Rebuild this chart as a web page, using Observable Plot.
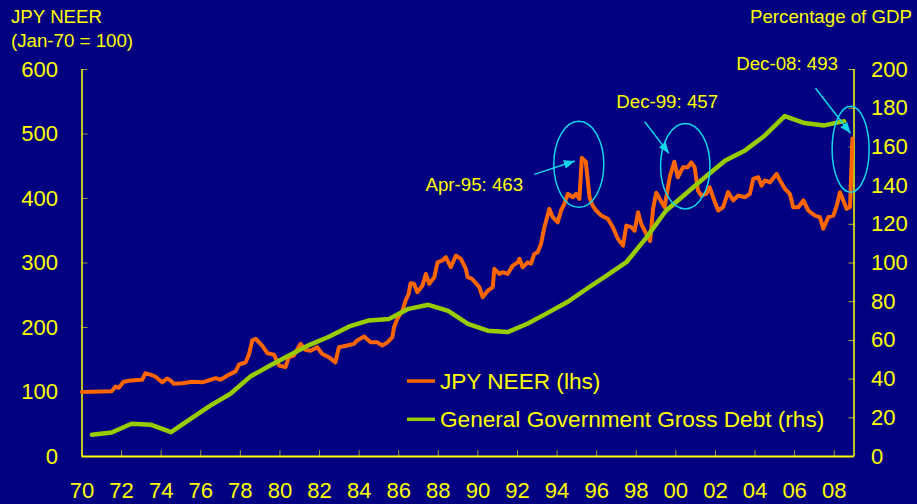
<!DOCTYPE html>
<html>
<head>
<meta charset="utf-8">
<script src="https://cdn.jsdelivr.net/npm/d3@7"></script>
<script src="https://cdn.jsdelivr.net/npm/@observablehq/plot@0.6"></script>
<style>
  html, body { margin: 0; padding: 0; background: #000080; }
  #chart { width: 917px; height: 504px; }
</style>
</head>
<body>
<div id="chart"></div>
<script>
// ---------- DATA ----------
// JPY nominal effective exchange rate (Jan-70 = 100), decimal year
const neerDates = [1970.0,1971.5,1971.7,1971.86,1972.1,1972.45,1973.04,1973.2,1973.46,1973.7,1974.05,1974.3,1974.47,1974.64,1975.06,1975.57,1976.08,1976.5,1976.75,1977.0,1977.43,1977.76,1977.93,1978.27,1978.44,1978.6,1978.78,1979.1,1979.37,1979.7,1979.96,1980.28,1980.45,1980.7,1981.04,1981.3,1981.54,1981.88,1982.14,1982.47,1982.8,1982.98,1983.4,1983.74,1983.9,1984.25,1984.58,1984.92,1985.17,1985.43,1985.68,1985.76,1985.93,1986.19,1986.35,1986.5,1986.6,1986.77,1986.94,1987.2,1987.37,1987.54,1987.8,1987.96,1988.21,1988.38,1988.63,1988.89,1989.14,1989.39,1989.48,1989.7,1990.07,1990.24,1990.5,1990.75,1990.83,1991.08,1991.25,1991.5,1991.76,1992.01,1992.1,1992.26,1992.52,1992.68,1992.85,1993.02,1993.19,1993.36,1993.61,1993.78,1994.03,1994.2,1994.37,1994.54,1994.8,1994.96,1995.13,1995.25,1995.45,1995.64,1995.8,1995.97,1996.23,1996.56,1996.82,1997.07,1997.33,1997.5,1997.75,1997.92,1998.09,1998.25,1998.51,1998.7,1998.85,1999.01,1999.18,1999.43,1999.69,1999.92,2000.1,2000.36,2000.6,2000.78,2000.95,2001.12,2001.29,2001.54,2001.71,2001.88,2002.14,2002.39,2002.64,2002.9,2003.15,2003.49,2003.74,2003.91,2004.16,2004.33,2004.5,2004.75,2005.09,2005.26,2005.51,2005.76,2005.93,2006.19,2006.44,2006.69,2007.03,2007.28,2007.45,2007.7,2007.96,2008.13,2008.29,2008.46,2008.63,2008.8,2008.92];
const neerValues = [100,101,108.5,106.5,116,117.8,119,129,127,124,115,121,118,112.7,113.7,116,115,119,121.4,119,127,132,142.6,146,159,180,182.5,172,160,158,141,138.5,154,156.6,174.7,165,164,169.5,159,154,146,169.5,172,174.7,180,186,177,177,172,177,185,200,213.5,226,242,252,268.7,267.7,254.7,265,283,267.7,278,301,304,309,293.5,311.6,306.5,291,278,275.5,262.5,247,257,262.5,291,283,285.7,283,296,301,306.5,293.5,301,298.8,314,316.8,329.7,355.5,384,371,363,381.4,391.8,407,402,407,399.5,463,457,402,389,381.4,373.6,368.5,355.5,337.5,327,358,355.5,350,378.8,360.8,345,334,384,409,399.5,386.5,433,457,433,448.5,448.5,456,448.5,412,404.7,407.3,417.5,402,381.4,386.5,409.8,397,404.7,402,407.3,430.5,433,420,428,425,438,428,415,407.3,386.5,386.5,397,381.4,373.6,371,353,371,373.6,389,409.8,397,384,386.5,493];

// General government gross debt, % of GDP (annual)
const debtYears = [1970,1971,1972,1973,1974,1975,1976,1977,1978,1979,1980,1981,1982,1983,1984,1985,1986,1987,1988,1989,1990,1991,1992,1993,1994,1995,1996,1997,1998,1999,2000,2001,2002,2003,2004,2005,2006,2007,2008];
const debtValues = [11.2,12.4,16.9,16.4,12.6,19.6,26.4,32.4,41.3,47,52.5,57.7,62,67.2,70.3,71,76.3,78.4,75.3,68.5,65,64.3,68.6,74.1,79.7,86.7,93.5,100.4,113,127,135.8,144.6,153,158.2,165.9,175.9,172.3,171.1,173.3];

// Axis ticks
const xTickYears = d3.range(1970, 2009, 2);
const leftTicks = [0,100,200,300,400,500,600];
const rightTicks = [0,20,40,60,80,100,120,140,160,180,200];

// Annotations
const annoDates = [1995.25, 1999.92, 2008.92];
const annoValues = [463, 457, 493];
const annoLabels = ["Apr-95: 463", "Dec-99: 457", "Dec-08: 493"];

// Text
const leftTitle = ["JPY NEER", "(Jan-70 = 100)"];
const rightTitle = "Percentage of GDP";
const seriesNames = ["JPY NEER (lhs)", "General Government Gross Debt (rhs)"];

// ---------- STYLE / LAYOUT ----------
const BG = "#000080", YEL = "#ffff00", ORANGE = "#ff6600", GREEN = "#99cc00", CYAN = "#14d6ea";
const FONT = "'Liberation Sans', Arial, Helvetica, sans-serif";
const RIGHT_K = 3; // 600 lhs units = 200 rhs units

// annotation layout offsets (px, relative to the annotated point)
const annoLayout = [
  {ldx: -107, ldy: 34, a1: [-47, 17], a2: [-6.5, 3.6], ec: [-2.5, 7], rx: 25, ry: 43},
  {ldx: -6.6, ldy: -53, a1: [-29, -39.5], a2: [-4.8, -7.9], ec: [11.5, 5], rx: 24.7, ry: 42.8},
  {ldx: -64.8, ldy: -68, a1: [-36.4, -49.7], a2: [-1.4, -4.7], ec: [-1.3, 11.2], rx: 18.5, ry: 43}
];

const neer = neerDates.map((d, i) => ({date: d, value: neerValues[i]}));
const debt = debtYears.map((y, i) => ({date: y + 0.5, value: debtValues[i] * RIGHT_K}));

const chart = Plot.plot({
  width: 917,
  height: 504,
  marginLeft: 81.5,
  marginRight: 63.5,
  marginTop: 69,
  marginBottom: 48,
  style: {background: BG, color: YEL, fontFamily: FONT, overflow: "visible"},
  x: {domain: [1970, 2009]},
  y: {domain: [0, 600]},
  marks: [
    // tick marks (inward)
    Plot.axisX({ticks: xTickYears, tickSize: -6, tickFormat: () => "", label: null, stroke: YEL, strokeOpacity: 0.6}),
    Plot.axisY({anchor: "left", ticks: leftTicks, tickSize: -6, tickFormat: () => "", label: null, stroke: YEL, strokeOpacity: 0.6}),
    Plot.axisY({anchor: "right", ticks: rightTicks.map(v => v * RIGHT_K), tickSize: -6, tickFormat: () => "", label: null, stroke: YEL, strokeOpacity: 0.7}),
    // tick labels
    Plot.axisX({ticks: xTickYears, tickSize: 0, tickPadding: 25.5, fontSize: 22, fill: YEL, label: null,
      tickFormat: d => String(d % 100).padStart(2, "0")}),
    Plot.axisY({anchor: "left", ticks: leftTicks, tickSize: 0, tickPadding: 24, fontSize: 22, fill: YEL, label: null}),
    Plot.axisY({anchor: "right", ticks: rightTicks.map(v => v * RIGHT_K), tickSize: 0, tickPadding: 17, fontSize: 22, fill: YEL, label: null,
      tickFormat: d => d / RIGHT_K}),
    // axis lines
    Plot.ruleY([0], {stroke: YEL, strokeWidth: 2}),
    Plot.ruleX([1970], {stroke: YEL, strokeWidth: 1.5}),
    Plot.ruleX([2009], {stroke: YEL, strokeWidth: 1.5}),
    // series
    Plot.line(neer, {x: "date", y: "value", stroke: ORANGE, strokeWidth: 4, strokeLinejoin: "round"}),
    Plot.line(debt, {x: "date", y: "value", stroke: GREEN, strokeWidth: 4.5, strokeLinejoin: "round"})
  ]
});

document.getElementById("chart").appendChild(chart);

// ---------- ANNOTATIONS, TITLES, LEGEND ----------
const sx = chart.scale("x"), sy = chart.scale("y");
const svg = d3.select(chart);

const defs = svg.append("defs");
defs.append("marker")
  .attr("id", "ahead")
  .attr("viewBox", "0 0 10 8")
  .attr("refX", 10).attr("refY", 4)
  .attr("markerWidth", 11).attr("markerHeight", 9)
  .attr("markerUnits", "userSpaceOnUse")
  .attr("orient", "auto")
  .append("path").attr("d", "M0,0 L10,4 L0,8 Z").attr("fill", CYAN);

const ann = svg.append("g").attr("class", "annotations");
annoDates.forEach((d, i) => {
  const px = sx.apply(d), py = sy.apply(annoValues[i]);
  const L = annoLayout[i];
  ann.append("ellipse")
    .attr("cx", px + L.ec[0]).attr("cy", py + L.ec[1])
    .attr("rx", L.rx).attr("ry", L.ry)
    .attr("fill", "none").attr("stroke", CYAN).attr("stroke-width", 1.5);
  ann.append("line")
    .attr("x1", px + L.a1[0]).attr("y1", py + L.a1[1])
    .attr("x2", px + L.a2[0]).attr("y2", py + L.a2[1])
    .attr("stroke", CYAN).attr("stroke-width", 1.5)
    .attr("marker-end", "url(#ahead)");
  ann.append("text")
    .attr("x", px + L.ldx).attr("y", py + L.ldy)
    .attr("text-anchor", "middle")
    .attr("fill", YEL).attr("font-size", 18.7).attr("font-family", FONT)
    .text(annoLabels[i]);
});

const titles = svg.append("g").attr("fill", YEL).attr("font-family", FONT).attr("text-anchor", "start");
titles.append("text").attr("x", 11).attr("y", 23.3).attr("font-size", 18.7).text(leftTitle[0]);
titles.append("text").attr("x", 11).attr("y", 46.7).attr("font-size", 18.7).text(leftTitle[1]);
titles.append("text").attr("x", 912).attr("y", 23.3).attr("font-size", 18.7).attr("text-anchor", "end").text(rightTitle);

const legend = svg.append("g").attr("font-family", FONT).attr("text-anchor", "start");
[ORANGE, GREEN].forEach((c, i) => {
  const y = 381 + i * 38.3;
  legend.append("line").attr("x1", 407).attr("x2", 435).attr("y1", y).attr("y2", y)
    .attr("stroke", c).attr("stroke-width", 3.5);
  legend.append("text").attr("x", 440).attr("y", y).attr("dy", "0.35em")
    .attr("fill", YEL).attr("font-size", 22.6).text(seriesNames[i]);
});
</script>
</body>
</html>
